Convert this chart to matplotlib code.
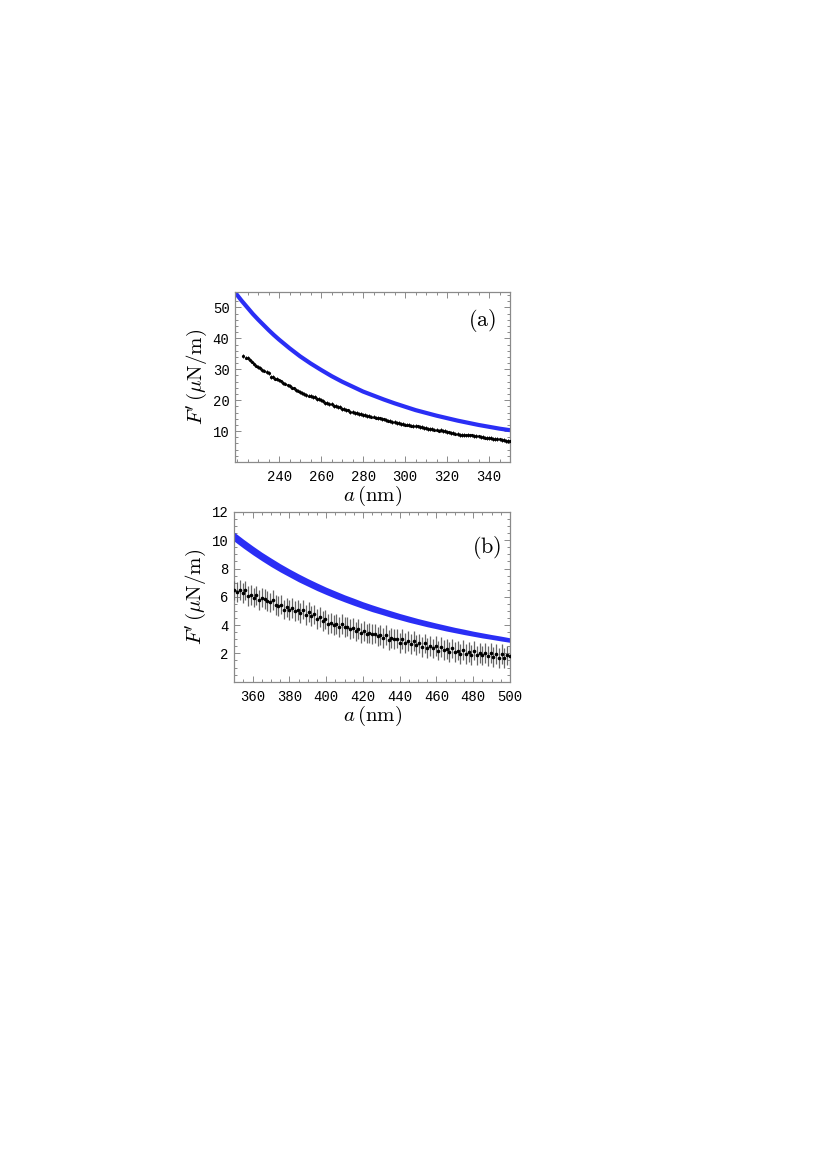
"""
Two-panel force-gradient plot: theory band (blue) vs measured F' with error bars.
(a) 219-350 nm, (b) 350-500 nm
"""
import numpy as np
import matplotlib
matplotlib.use("Agg")
import matplotlib.pyplot as plt
from matplotlib.ticker import MultipleLocator

plt.rcParams["mathtext.fontset"] = "cm"

# ---- panel (a) data ----
theory_a_x = [219, 222, 225, 227.5, 230, 232.5, 235, 237.5, 240, 245, 250, 255, 260,
              265, 270, 275, 280, 285, 290, 295, 300, 305, 310, 315, 320,
              325, 330, 335, 340, 345, 350]
theory_a_y = [54.9, 52.3, 49.9, 47.9, 46.1, 44.4, 42.7, 41.1, 39.6, 36.8, 34.2, 31.9, 29.8,
              27.8, 26.0, 24.4, 22.8, 21.5, 20.2, 19.0, 17.9, 16.8, 15.9, 15.0, 14.2,
              13.4, 12.7, 12.0, 11.4, 10.8, 10.3]

exp_a_x = list(range(223, 351))
exp_a_y = [
    34.4, 33.8, 33.7, 33.1, 32.5, 31.8, 31.2, 30.7, 30.4, 29.8,
    29.6, 29.1, 28.7, 27.5, 27.6, 27.0, 26.9, 26.4, 26.1, 25.6,
    25.4, 24.8, 24.7, 24.1, 23.8, 23.2, 23.1, 22.6, 22.3, 21.9,
    21.8, 21.5, 21.4, 21.0, 21.0, 20.5, 20.5, 20.1, 19.8, 19.2,
    19.1, 18.7, 18.7, 18.2, 18.1, 17.7, 17.7, 17.2, 17.1, 16.8,
    16.7, 16.3, 16.3, 15.9, 15.9, 15.6, 15.6, 15.3, 15.3, 15.0,
    15.0, 14.7, 14.7, 14.4, 14.2, 14.1, 13.9, 13.8, 13.7, 13.4,
    13.3, 12.9, 12.9, 12.6, 12.7, 12.4, 12.4, 12.1, 12.1, 11.9,
    11.8, 11.7, 11.6, 11.5, 11.4, 11.3, 11.1, 11.0, 10.8, 10.7,
    10.8, 10.5, 10.5, 10.2, 10.3, 10.1, 10.0, 9.8, 9.6, 9.5,
    9.4, 9.2, 9.1, 8.8, 8.7, 8.8, 8.6, 8.7, 8.6, 8.6,
    8.5, 8.4, 8.3, 8.1, 8.1, 7.9, 7.8, 7.7, 7.7, 7.5,
    7.5, 7.4, 7.3, 7.1, 7.1, 6.9, 6.8, 6.7,
]
err_a = 0.6

# ---- panel (b) data ----
theory_b_x = [350, 355, 360, 365, 370, 375, 380, 385, 390, 395, 400, 405, 410, 415, 420,
              425, 430, 435, 440, 445, 450, 455, 460, 465, 470, 475, 480, 485, 490, 495, 500]
theory_b_lo = [9.93, 9.44, 8.98, 8.55, 8.14, 7.76, 7.41, 7.06, 6.75, 6.44, 6.16, 5.89, 5.64,
               5.40, 5.17, 4.95, 4.76, 4.56, 4.38, 4.20, 4.04, 3.88, 3.74, 3.59, 3.46,
               3.33, 3.21, 3.09, 2.99, 2.88, 2.78]
theory_b_hi = [10.57, 10.07, 9.60, 9.15, 8.74, 8.34, 7.97, 7.62, 7.29, 6.98, 6.68, 6.41, 6.14,
               5.90, 5.65, 5.43, 5.22, 5.02, 4.82, 4.64, 4.46, 4.30, 4.14, 3.99, 3.84,
               3.71, 3.57, 3.45, 3.33, 3.22, 3.10]

exp_b_x = [350 + 1.5 * i for i in range(101)]
exp_b_y = [
    6.45, 6.35, 6.50, 6.25, 6.45, 6.05, 6.15, 5.95, 6.10, 5.80,
    5.95, 5.85, 5.70, 5.60, 5.75, 5.40, 5.35, 5.45, 5.10, 5.25,
    5.05, 5.20, 5.00, 5.05, 4.85, 5.10, 4.70, 4.90, 4.65, 4.75,
    4.45, 4.55, 4.30, 4.40, 4.05, 4.15, 4.00, 4.10, 3.85, 4.05,
    3.85, 3.90, 3.70, 3.80, 3.55, 3.75, 3.45, 3.60, 3.40, 3.45,
    3.35, 3.40, 3.20, 3.30, 3.10, 3.30, 2.95, 3.10, 3.00, 3.05,
    2.75, 3.00, 2.75, 2.85, 2.65, 2.85, 2.60, 2.70, 2.45, 2.70,
    2.40, 2.50, 2.35, 2.50, 2.20, 2.45, 2.25, 2.30, 2.10, 2.35,
    2.10, 2.20, 1.95, 2.25, 1.95, 2.10, 1.90, 2.20, 1.85, 2.05,
    1.85, 2.00, 1.80, 2.05, 1.75, 1.95, 1.65, 1.95, 1.70, 1.85,
    1.80,
]
err_b = 0.7

BLUE = "#2a2ef5"
FRAME = "#8a8a8a"
TICKFONT = "Liberation Mono"


def style_axes(ax, xmajor, xminor, ymajor, yminor):
    for sp in ax.spines.values():
        sp.set_color(FRAME)
        sp.set_linewidth(0.9)
    ax.xaxis.set_major_locator(MultipleLocator(xmajor))
    ax.xaxis.set_minor_locator(MultipleLocator(xminor))
    ax.yaxis.set_major_locator(MultipleLocator(ymajor))
    ax.yaxis.set_minor_locator(MultipleLocator(yminor))
    ax.tick_params(which="both", direction="in", top=True, right=True,
                   color=FRAME, width=0.7)
    ax.tick_params(which="major", length=4, labelsize=10)
    ax.tick_params(which="minor", length=2)
    ax.tick_params(axis="x", pad=6)
    ax.tick_params(axis="y", pad=4)


fig = plt.figure(figsize=(8.27, 11.70), dpi=100)
ax_a = fig.add_axes([0.2842, 0.6051, 0.3325, 0.1453])
ax_b = fig.add_axes([0.2833, 0.4174, 0.3334, 0.1450])

# (a)
ax_a.plot(theory_a_x, theory_a_y, color=BLUE, lw=3.0, solid_capstyle="butt",
          solid_joinstyle="round", zorder=2)
ax_a.errorbar(exp_a_x, exp_a_y, yerr=err_a, fmt="o", ms=1.3, color="black",
              ecolor="#222222", elinewidth=0.7, capsize=0, zorder=3)
ax_a.set_xlim(219, 350)
ax_a.set_ylim(0, 55)
style_axes(ax_a, 20, 5, 10, 2)
ax_a.set_yticks([10, 20, 30, 40, 50])
ax_a.set_xticks([240, 260, 280, 300, 320, 340])
for lab in ax_a.get_xticklabels() + ax_a.get_yticklabels():
    lab.set_family(TICKFONT)
ax_a.set_xlabel(r"$a\,(\mathrm{nm})$", fontsize=15, labelpad=0)
ax_a.set_ylabel(r"$F'\,(\mu\mathrm{N/m})$", fontsize=15, labelpad=2)
ax_a.text(0.90, 0.835, r"$\mathrm{(a)}$", transform=ax_a.transAxes, fontsize=16,
          ha="center", va="center")

# (b)
ax_b.fill_between(theory_b_x, theory_b_lo, theory_b_hi, color=BLUE, lw=0, zorder=2)
ax_b.errorbar(exp_b_x, exp_b_y, yerr=err_b, fmt="o", ms=1.6, color="black",
              ecolor="#666666", elinewidth=0.9, capsize=0, zorder=3)
ax_b.set_xlim(350, 500)
ax_b.set_ylim(0, 12)
style_axes(ax_b, 20, 5, 2, 0.5)
ax_b.set_yticks([2, 4, 6, 8, 10, 12])
ax_b.set_xticks([360, 380, 400, 420, 440, 460, 480, 500])
for lab in ax_b.get_xticklabels() + ax_b.get_yticklabels():
    lab.set_family(TICKFONT)
ax_b.set_xlabel(r"$a\,(\mathrm{nm})$", fontsize=15, labelpad=0)
ax_b.set_ylabel(r"$F'\,(\mu\mathrm{N/m})$", fontsize=15, labelpad=2)
ax_b.text(0.917, 0.788, r"$\mathrm{(b)}$", transform=ax_b.transAxes, fontsize=16,
          ha="center", va="center")

fig.savefig("out.png", dpi=100)
